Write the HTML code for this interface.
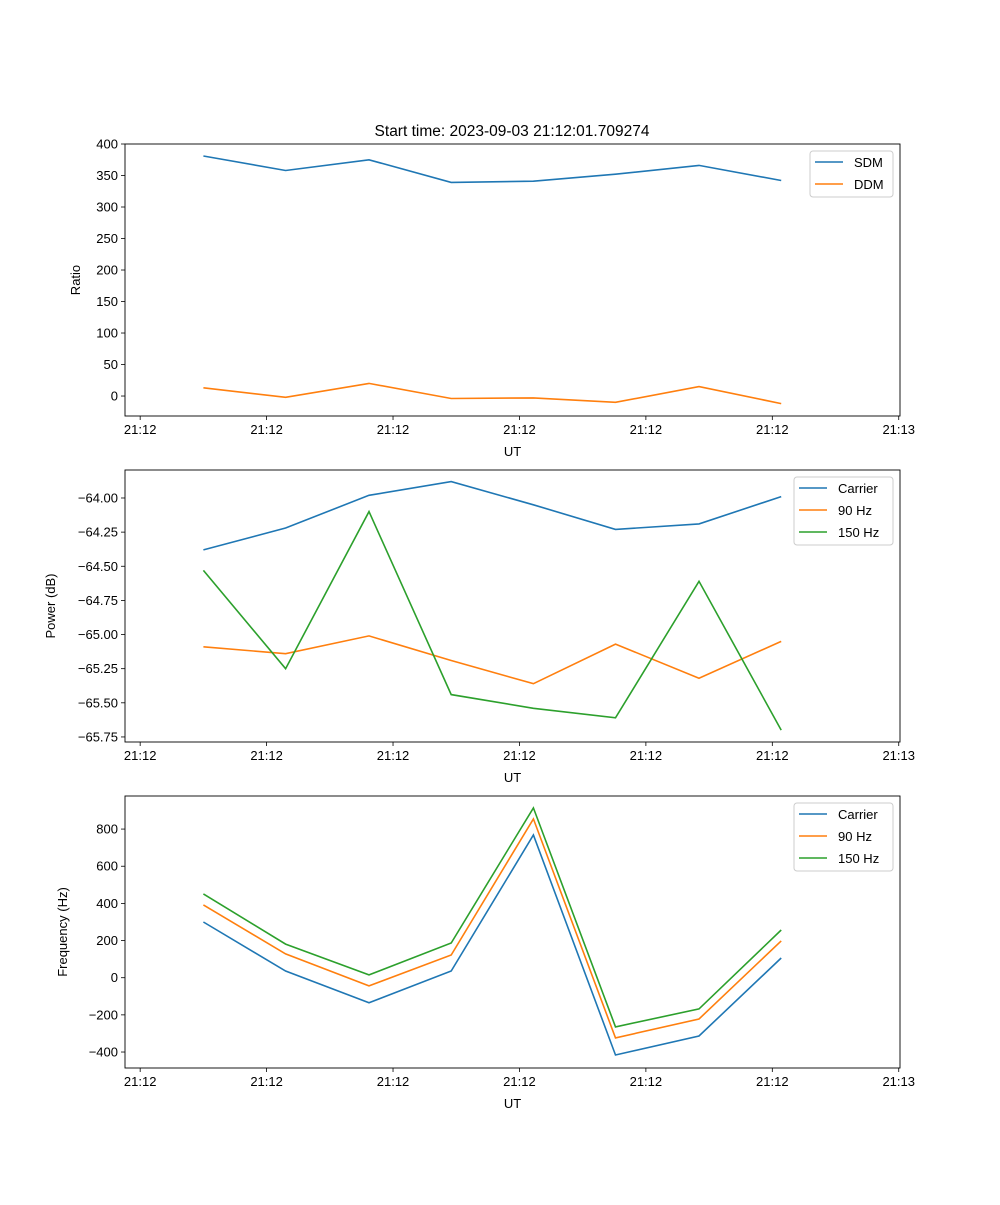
<!DOCTYPE html>
<html><head><meta charset="utf-8">
<style>
body{margin:0;background:#fff;}
svg text{font-family:"Liberation Sans","DejaVu Sans",sans-serif;font-size:13px;fill:#000;}
</style></head>
<body>
<svg id="chart" width="1000" height="1200" xmlns="http://www.w3.org/2000/svg">
<text x="512" y="136" text-anchor="middle" style="font-size:15.5px">Start time: 2023-09-03 21:12:01.709274</text>
</svg>
<script>
const times = [5.0, 11.5, 18.1, 24.6, 31.1, 37.6, 44.2, 50.7];
const xTickVals = [0, 10, 20, 30, 40, 50, 60];
const xTickLabels = ["21:12","21:12","21:12","21:12","21:12","21:12","21:13"];
const sdm = [381, 358, 375, 339, 341, 352, 366, 342];
const ddm = [13, -2, 20, -4, -3, -10, 15, -12];
const powCarrier = [-64.38, -64.22, -63.98, -63.88, -64.05, -64.23, -64.19, -63.99];
const pow90 = [-65.09, -65.14, -65.01, -65.19, -65.36, -65.07, -65.32, -65.05];
const pow150 = [-64.53, -65.25, -64.10, -65.44, -65.54, -65.61, -64.61, -65.70];
const freqCarrier = [300, 36, -135, 36, 768, -416, -314, 106];
const freq90 = [392, 128, -44, 122, 855, -324, -222, 198];
const freq150 = [451, 181, 15, 187, 914, -265, -168, 257];
const ratioTicks = [0, 50, 100, 150, 200, 250, 300, 350, 400];
const powerTicks = [-64.00, -64.25, -64.50, -64.75, -65.00, -65.25, -65.50, -65.75];
const freqTicks = [-400, -200, 0, 200, 400, 600, 800];

const svg = document.getElementById('chart');
const NS = 'http://www.w3.org/2000/svg';
const L = 125, R = 900;
function xs(t){ return L + (t - (-1.2)) / (60.1 - (-1.2)) * (R - L); }
function mk(tag, attrs){ const e = document.createElementNS(NS, tag); for (const k in attrs) e.setAttribute(k, attrs[k]); svg.appendChild(e); return e; }

function panel(top, bottom, ymin, ymax, yticks, fmt, ylabel, series, legend, pname){
  const ys = v => bottom - (v - ymin) / (ymax - ymin) * (bottom - top);
  series.forEach(s => {
    const pts = s.vals.map((v, i) => xs(times[i]).toFixed(1) + ',' + ys(v).toFixed(1)).join(' ');
    const pl = mk('polyline', {points: pts, fill: 'none', stroke: s.color, 'stroke-width': 1.6});
    
    
  });
  const fr = mk('rect', {x: L, y: top, width: R - L, height: bottom - top, fill: 'none', stroke: '#000', 'stroke-width': 0.9});
  
  
  xTickVals.forEach((t, i) => {
    const x = xs(t);
    mk('line', {x1: x, x2: x, y1: bottom, y2: bottom + 4, stroke: '#000', 'stroke-width': 0.8});
    const tx = mk('text', {x: x, y: bottom + 18, 'text-anchor': 'middle'});
    tx.textContent = xTickLabels[i];
    
    
  });
  yticks.forEach(v => {
    const y = ys(v);
    mk('line', {x1: L - 4, x2: L, y1: y, y2: y, stroke: '#000', 'stroke-width': 0.8});
    const tx = mk('text', {x: L - 7, y: y + 4.5, 'text-anchor': 'end'});
    tx.textContent = fmt(v);
    
    
  });
  const xl = mk('text', {x: (L + R) / 2, y: bottom + 40, 'text-anchor': 'middle'});
  xl.textContent = 'UT';
  
  
  const cy = (top + bottom) / 2, lx = legend.ylx;
  const yl = mk('text', {x: lx, y: cy, 'text-anchor': 'middle', transform: 'rotate(-90 ' + lx + ' ' + cy + ')'});
  yl.textContent = ylabel;
  
  
  const lb = mk('rect', {x: legend.x, y: top + 7, width: R - 7 - legend.x, height: series.length * 22 + 2, fill: '#fff', stroke: '#ccc', rx: 3});
  
  
  series.forEach((s, i) => {
    const y = top + 18 + i * 22;
    mk('line', {x1: legend.x + 5, x2: legend.x + 33, y1: y, y2: y, stroke: s.color, 'stroke-width': 1.6});
    const tx = mk('text', {x: legend.x + 44, y: y + 5});
    tx.textContent = s.name;
    
    
  });
}
const C1 = '#1f77b4', C2 = '#ff7f0e', C3 = '#2ca02c';
panel(144, 416, -31.7, 400, ratioTicks, v => String(v), 'Ratio',
  [{key:'sdm', name:'SDM', vals:sdm, color:C1}, {key:'ddm', name:'DDM', vals:ddm, color:C2}],
  {x:810, ylx:80}, 'ratio-panel');
panel(470, 742, -65.787, -63.795, powerTicks, v => '\u2212' + Math.abs(v).toFixed(2), 'Power (dB)',
  [{key:'carrier', name:'Carrier', vals:powCarrier, color:C1}, {key:'90hz', name:'90 Hz', vals:pow90, color:C2}, {key:'150hz', name:'150 Hz', vals:pow150, color:C3}],
  {x:794, ylx:55}, 'power-panel');
panel(796, 1068, -486, 978, freqTicks, v => v < 0 ? '\u2212' + Math.abs(v) : String(v), 'Frequency (Hz)',
  [{key:'carrier', name:'Carrier', vals:freqCarrier, color:C1}, {key:'90hz', name:'90 Hz', vals:freq90, color:C2}, {key:'150hz', name:'150 Hz', vals:freq150, color:C3}],
  {x:794, ylx:67}, 'frequency-panel');
</script>
</body></html>
